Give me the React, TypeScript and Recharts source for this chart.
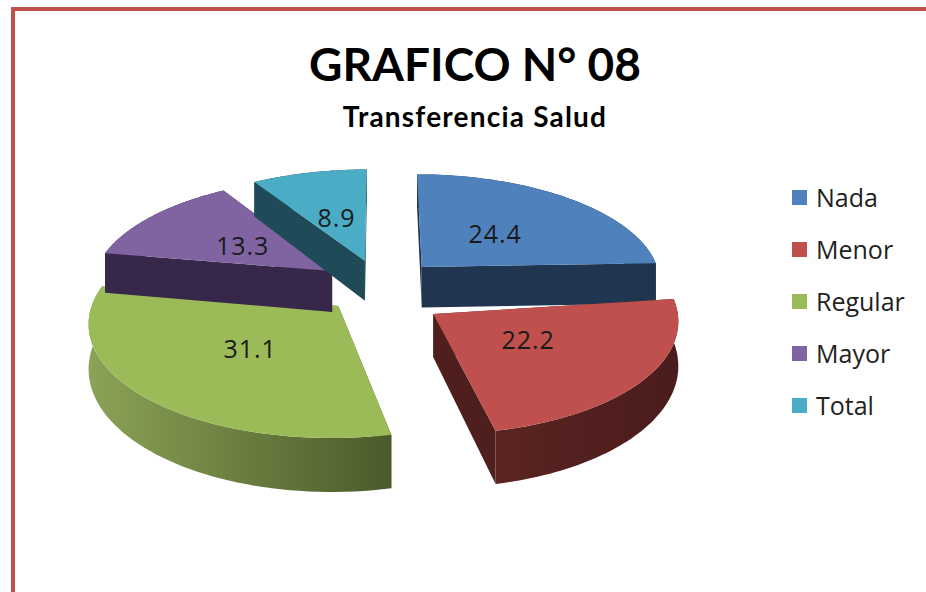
import React from 'react';
import { PieChart, Pie, Legend } from 'recharts';

const categories = ['Nada', 'Menor', 'Regular', 'Mayor', 'Total'];
const values = [24.4, 22.2, 31.1, 13.3, 8.9];
const topColors = ['#4f81bd', '#c0504d', '#9bbb59', '#8064a2', '#4bacc6'];
const wallStart = ['#1f3550', '#5a2422', '#8ba356', '#37274a', '#1f4a57'];
const wallEnd = ['#1f3550', '#4a1c1b', '#4b5a2a', '#37274a', '#1f4a57'];
const edgeColors = ['#1f3550', '#4f1f1e', '#4b5a2a', '#37274a', '#1f4a57'];

const tableData = categories.map((name, i) => ({ name, value: values[i], fill: topColors[i], index: i }));

const RAD = Math.PI / 180;
const EXPLODE = 60;
const TILT = 0.453;
const PERSPECTIVE = 0.13;
const DEPTH = 42;
const MENOR_APEX_SHIFT = { x: 4, y: 11 };

function project(cx: number, cy: number, R: number, X: number, Y: number, drop: boolean) {
  const s = 1 / (1 + (PERSPECTIVE * Y) / R);
  return {
    x: cx + X * s,
    y: cy - TILT * Y * s + (drop ? DEPTH * Math.pow(s, 1.5) : 0),
  };
}

function polar(deg: number, r: number) {
  return { X: r * Math.cos(deg * RAD), Y: r * Math.sin(deg * RAD) };
}

function toPath(pts: { x: number; y: number }[]) {
  return pts.map((p, i) => `${i ? 'L' : 'M'}${p.x.toFixed(2)} ${p.y.toFixed(2)}`).join(' ') + ' Z';
}

function Slice3D(props: any) {
  const { cx, cy, outerRadius: R, startAngle, endAngle, payload, index } = props;
  const i = payload?.index ?? index;
  const mid = (startAngle + endAngle) / 2;
  const off = polar(mid, EXPLODE);
  const pt = (deg: number, r: number, drop: boolean) => {
    const p = polar(deg, r);
    return project(cx, cy, R, off.X + p.X, off.Y + p.Y, drop);
  };
  const steps = 60;
  const angles: number[] = [];
  for (let k = 0; k <= steps; k++) angles.push(startAngle + ((endAngle - startAngle) * k) / steps);

  const shift = i === 1 ? MENOR_APEX_SHIFT : { x: 0, y: 0 };
  const a0 = pt(0, 0, false);
  const b0 = pt(0, 0, true);
  const apexTop = { x: a0.x + shift.x, y: a0.y + shift.y };
  const apexBot = { x: b0.x + shift.x, y: b0.y + shift.y };
  const rimTop = angles.map((a) => pt(a, R, false));
  const rimBot = angles.map((a) => pt(a, R, true));

  return (
    <g>
      <path d={toPath([apexTop, rimTop[0], rimBot[0], apexBot])} fill={edgeColors[i]} />
      <path d={toPath([apexTop, rimTop[steps], rimBot[steps], apexBot])} fill={edgeColors[i]} />
      <path d={toPath([...rimTop, ...[...rimBot].reverse()])} fill={`url(#wall${i})`} />
      <path d={toPath([apexTop, ...rimTop])} fill={topColors[i]} />
    </g>
  );
}

function SliceLabel(props: any) {
  const { cx, cy, outerRadius: R, startAngle, endAngle, value } = props;
  const mid = (startAngle + endAngle) / 2;
  const off = polar(mid, EXPLODE);
  const p = polar(mid, R * 0.48);
  const q = project(cx, cy, R, off.X + p.X, off.Y + p.Y, false);
  return (
    <text
      x={q.x}
      y={q.y + 1}
      textAnchor="middle"
      dominantBaseline="central"
      fill="#1a1a1a"
      style={{ fontFamily: 'Open Sans, sans-serif', fontSize: 25, letterSpacing: 1 }}
    >
      {value}
    </text>
  );
}

function LegendBox(props: any) {
  const items = props.payload || [];
  return (
    <div style={{ fontFamily: 'Open Sans, sans-serif', fontSize: 25, color: '#222' }}>
      {items.map((it: any) => (
        <div key={it.value} style={{ display: 'flex', alignItems: 'center', height: 52 }}>
          <span style={{ width: 15, height: 15, background: it.color, display: 'inline-block', marginRight: 9 }} />
          <span>{it.value}</span>
        </div>
      ))}
    </div>
  );
}

export default function App() {
  return (
    <div style={{ position: 'absolute', left: 0, top: 0, width: 926, height: 592, overflow: 'hidden', background: '#fff' }}>
      <div
        style={{
          position: 'absolute',
          left: 11,
          top: 7,
          width: 930,
          height: 620,
          border: '4.5px solid #c0504d',
          boxSizing: 'border-box',
        }}
      />
      <div
        style={{
          position: 'absolute',
          left: 0,
          width: 950,
          top: 32,
          textAlign: 'center',
          fontFamily: 'Lato, sans-serif',
          fontWeight: 700,
          fontSize: 46,
          lineHeight: '64px',
          color: '#000',
        }}
      >
        GRAFICO N° 08
      </div>
      <div
        style={{
          position: 'absolute',
          left: 0,
          width: 950,
          top: 98,
          textAlign: 'center',
          fontFamily: 'Lato, sans-serif',
          fontWeight: 700,
          fontSize: 28,
          letterSpacing: 1.2,
          lineHeight: '36px',
          color: '#000',
        }}
      >
        Transferencia Salud
      </div>
      <div style={{ position: 'absolute', left: 0, top: 0 }}>
        <PieChart width={926} height={592} margin={{ top: 0, right: 0, bottom: 0, left: 0 }}>
          <defs>
            {categories.map((c, i) => (
              <linearGradient key={c} id={`wall${i}`} x1="0" y1="0" x2="1" y2="0">
                <stop offset="0%" stopColor={wallStart[i]} />
                <stop offset="100%" stopColor={wallEnd[i]} />
              </linearGradient>
            ))}
          </defs>
          <Pie
            data={tableData}
            dataKey="value"
            nameKey="name"
            cx={381}
            cy={286}
            innerRadius={0}
            outerRadius={241}
            startAngle={90}
            endAngle={-270}
            paddingAngle={0}
            stroke="none"
            isAnimationActive={false}
            shape={Slice3D}
            label={SliceLabel}
            labelLine={false}
          />
          <Legend
            layout="vertical"
            align="right"
            verticalAlign="top"
            itemSorter={null}
            content={LegendBox}
            wrapperStyle={{ position: 'absolute', left: 792, top: 171, width: 130 }}
          />
        </PieChart>
      </div>
    </div>
  );
}
